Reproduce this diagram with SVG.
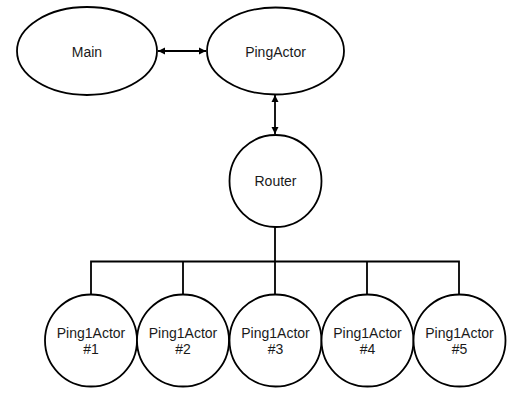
<svg xmlns="http://www.w3.org/2000/svg" width="520" height="401" viewBox="0 0 520 401">
  <defs>
    <style>
      .shape { fill: #ffffff; stroke: #000000; stroke-width: 1.8; }
      .line { fill: none; stroke: #000000; stroke-width: 1.8; }
      .label { font-family: "Liberation Sans", Arial, sans-serif; font-size: 14px; fill: #1a1a1a; text-anchor: middle; }
    </style>
    <marker id="arrow" viewBox="0 0 10 10" refX="10" refY="5" markerWidth="4" markerHeight="4" orient="auto-start-reverse" markerUnits="strokeWidth">
      <path d="M0,0 L10,5 L0,10 Z" fill="#000000"/>
    </marker>
  </defs>
  <rect width="520" height="401" fill="#ffffff"/>

  <g id="connectors">
    <line class="line" x1="158" y1="51" x2="206" y2="51" marker-start="url(#arrow)" marker-end="url(#arrow)"/>
    <line class="line" x1="275" y1="95" x2="275" y2="134" marker-start="url(#arrow)" marker-end="url(#arrow)"/>
    <path class="line" d="M275,227 V261.5 M91,294 V261.5 H459 V294 M183,261.5 V294 M275,261.5 V294 M367,261.5 V294"/>
  </g>

  <g id="main">
    <ellipse class="shape" cx="87" cy="51" rx="70" ry="44"/>
    <text class="label" x="87" y="56.5">Main</text>
  </g>
  <g id="pingactor">
    <ellipse class="shape" cx="275.5" cy="51" rx="68.5" ry="43.5"/>
    <text class="label" x="275.5" y="56.5">PingActor</text>
  </g>
  <g id="router">
    <circle class="shape" cx="275.5" cy="181" r="46"/>
    <text class="label" x="275.5" y="186">Router</text>
  </g>
  <g id="ping1actor-1">
    <circle class="shape" cx="91" cy="340.5" r="46"/>
    <text class="label" x="91" y="338">Ping1Actor</text>
    <text class="label" x="91" y="353.5">#1</text>
  </g>
  <g id="ping1actor-2">
    <circle class="shape" cx="183" cy="340.5" r="46"/>
    <text class="label" x="183" y="338">Ping1Actor</text>
    <text class="label" x="183" y="353.5">#2</text>
  </g>
  <g id="ping1actor-3">
    <circle class="shape" cx="275.5" cy="340.5" r="46"/>
    <text class="label" x="275.5" y="338">Ping1Actor</text>
    <text class="label" x="275.5" y="353.5">#3</text>
  </g>
  <g id="ping1actor-4">
    <circle class="shape" cx="367.5" cy="340.5" r="46"/>
    <text class="label" x="367.5" y="338">Ping1Actor</text>
    <text class="label" x="367.5" y="353.5">#4</text>
  </g>
  <g id="ping1actor-5">
    <circle class="shape" cx="459.5" cy="340.5" r="46"/>
    <text class="label" x="459.5" y="338">Ping1Actor</text>
    <text class="label" x="459.5" y="353.5">#5</text>
  </g>
</svg>
